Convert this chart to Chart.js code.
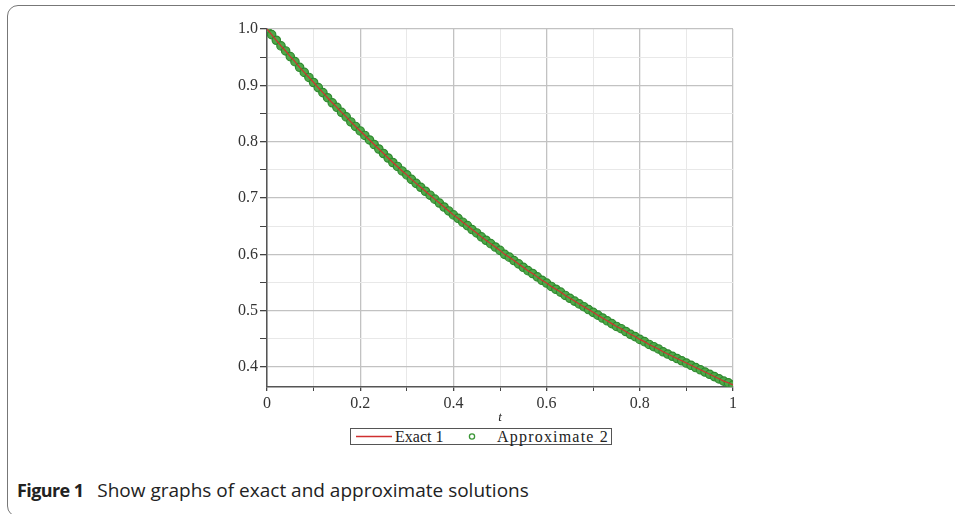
<!DOCTYPE html>
<html>
<head>
<meta charset="utf-8">
<script src="https://cdn.jsdelivr.net/npm/chart.js@4/dist/chart.umd.min.js"></script>
<style>
  html, body { margin: 0; padding: 0; background: #fff; }
  body { width: 955px; height: 514px; position: relative; overflow: hidden; }
  #card { position: absolute; left: 7px; top: 5px; width: 1000px; height: 512px;
          border: 1.5px solid #777; border-radius: 11px; box-sizing: border-box; }
  #wrap { position: absolute; left: 0; top: 0; width: 955px; height: 425px; }
  #legend { position: absolute; left: 350px; top: 428px; width: 262px; height: 17px;
            border: 1px solid #555; box-sizing: border-box; font-family: "Liberation Serif", serif;
            font-size: 16px; color: #222; line-height: 15px; white-space: nowrap; }
  #legend span { position: absolute; top: 0; }
  #caption { position: absolute; left: 17px; top: 477px; font-family: "Open Sans", sans-serif;
             font-size: 19px; color: #222; white-space: nowrap; }
  #caption b { font-weight: 700; font-size: 18px; letter-spacing: -0.6px; margin-right: 9px; }
</style>
</head>
<body>
<div id="card"></div>
<div id="wrap"><canvas id="c" width="955" height="425"></canvas></div>
<div id="legend">
  <canvas id="lgLine" width="40" height="15" style="position:absolute;left:3px;top:0"></canvas>
  <span style="left:44px">Exact 1</span>
  <canvas id="lgDot" width="14" height="15" style="position:absolute;left:114px;top:0"></canvas>
  <span style="left:146px;letter-spacing:1.2px">Approximate 2</span>
</div>
<div id="caption"><b>Figure 1</b> Show graphs of exact and approximate solutions</div>
<script>
// ---- data ----
const tValues = [0.00,0.01,0.02,0.03,0.04,0.05,0.06,0.07,0.08,0.09,
                 0.10,0.11,0.12,0.13,0.14,0.15,0.16,0.17,0.18,0.19,
                 0.20,0.21,0.22,0.23,0.24,0.25,0.26,0.27,0.28,0.29,
                 0.30,0.31,0.32,0.33,0.34,0.35,0.36,0.37,0.38,0.39,
                 0.40,0.41,0.42,0.43,0.44,0.45,0.46,0.47,0.48,0.49,
                 0.50,0.51,0.52,0.53,0.54,0.55,0.56,0.57,0.58,0.59,
                 0.60,0.61,0.62,0.63,0.64,0.65,0.66,0.67,0.68,0.69,
                 0.70,0.71,0.72,0.73,0.74,0.75,0.76,0.77,0.78,0.79,
                 0.80,0.81,0.82,0.83,0.84,0.85,0.86,0.87,0.88,0.89,
                 0.90,0.91,0.92,0.93,0.94,0.95,0.96,0.97,0.98,0.99,1.00];
const exactValues = [1.000,0.990,0.980,0.970,0.961,0.951,0.942,0.932,0.923,0.914,
                     0.905,0.896,0.887,0.878,0.869,0.861,0.852,0.844,0.835,0.827,
                     0.819,0.811,0.803,0.795,0.787,0.779,0.771,0.763,0.756,0.748,
                     0.741,0.733,0.726,0.719,0.712,0.705,0.698,0.691,0.684,0.677,
                     0.670,0.664,0.657,0.651,0.644,0.638,0.631,0.625,0.619,0.613,
                     0.607,0.600,0.595,0.589,0.583,0.577,0.571,0.566,0.560,0.554,
                     0.549,0.543,0.538,0.533,0.527,0.522,0.517,0.512,0.507,0.502,
                     0.497,0.492,0.487,0.482,0.477,0.472,0.468,0.463,0.458,0.454,
                     0.449,0.445,0.440,0.436,0.432,0.427,0.423,0.419,0.415,0.411,
                     0.407,0.403,0.399,0.395,0.391,0.387,0.383,0.379,0.375,0.372,0.368];
const approxValues = [1.000,0.990,0.980,0.970,0.961,0.951,0.942,0.932,0.923,0.914,
                      0.905,0.896,0.887,0.878,0.869,0.861,0.852,0.844,0.835,0.827,
                      0.819,0.811,0.803,0.795,0.787,0.779,0.771,0.763,0.756,0.748,
                      0.741,0.733,0.726,0.719,0.712,0.705,0.698,0.691,0.684,0.677,
                      0.670,0.664,0.657,0.651,0.644,0.638,0.631,0.625,0.619,0.613,
                      0.607,0.600,0.595,0.589,0.583,0.577,0.571,0.566,0.560,0.554,
                      0.549,0.543,0.538,0.533,0.527,0.522,0.517,0.512,0.507,0.502,
                      0.497,0.492,0.487,0.482,0.477,0.472,0.468,0.463,0.458,0.454,
                      0.449,0.445,0.440,0.436,0.432,0.427,0.423,0.419,0.415,0.411,
                      0.407,0.403,0.399,0.395,0.391,0.387,0.383,0.379,0.375,0.372,0.368];
const xTicks = [0,0.1,0.2,0.3,0.4,0.5,0.6,0.7,0.8,0.9,1];
const xTickLabels = ['0','','0.2','','0.4','','0.6','','0.8','','1'];
const yTicks = [0.4,0.45,0.5,0.55,0.6,0.65,0.7,0.75,0.8,0.85,0.9,0.95,1.0];
const yTickLabels = ['0.4','','0.5','','0.6','','0.7','','0.8','','0.9','','1.0'];
const seriesNames = ['Exact 1','Approximate 2'];

const RED = '#d03030', GREEN = '#3a9636';
const serif = '"Liberation Serif", "Times New Roman", serif';

const exactData = tValues.map((t,i)=>({x:t,y:exactValues[i]}));
const approxData = tValues.map((t,i)=>({x:t,y:approxValues[i]}));

function isMajor(v, step){ const r = v/step; return Math.abs(r-Math.round(r))<1e-6; }

new Chart(document.getElementById('c'), {
  type: 'scatter',
  data: { datasets: [
    { label: seriesNames[0], data: exactData, showLine: true, borderColor: RED, borderWidth: 1.2,
      pointRadius: 0, pointHoverRadius: 0, tension: 0, order: 0 },
    { label: seriesNames[1], data: approxData, showLine: false, pointStyle: 'circle',
      pointRadius: 4.2, borderColor: '#2e8a2e', backgroundColor: '#4ea848', borderWidth: 1.2, order: 1 }
  ]},
  options: {
    responsive: false, animation: false, events: [],
    layout: { padding: { left: 0, right: 222, top: 29, bottom: 0 } },
    plugins: { legend: { display: false }, tooltip: { enabled: false } },
    scales: {
      x: {
        type: 'linear', min: 0, max: 1,
        afterBuildTicks: s => { s.ticks = xTicks.map(v=>({value:v})); },
        afterFit: s => { s.height = 38; },
        ticks: { autoSkip: false, maxRotation: 0, padding: 3, color: '#333',
                 font: { family: serif, size: 16 },
                 callback: (v, i) => xTickLabels[i] },
        grid: { color: ctx => isMajor(ctx.tick.value, 0.2) ? '#c2c2c2' : '#e8e8e8',
                lineWidth: ctx => isMajor(ctx.tick.value, 0.2) ? 1.3 : 1,
                tickColor: '#444', tickLength: 4, drawOnChartArea: true },
        border: { color: '#555', width: 1.5 },
        title: { display: true, text: 't', color: '#222', padding: { top: 0, bottom: 0 },
                 font: { family: serif, size: 13, style: 'italic' } }
      },
      y: {
        type: 'linear', min: 0.3645, max: 1.0,
        afterBuildTicks: s => { s.ticks = yTicks.map(v=>({value:v})); },
        afterFit: s => { s.width = 267; },
        ticks: { autoSkip: false, padding: 2, color: '#333',
                 font: { family: serif, size: 16 },
                 callback: (v, i) => yTickLabels[i] },
        grid: { color: ctx => isMajor(ctx.tick.value, 0.1) ? '#c2c2c2' : '#e8e8e8',
                lineWidth: ctx => isMajor(ctx.tick.value, 0.1) ? 1.3 : 1,
                tickColor: '#444', tickLength: 7 },
        border: { color: '#555', width: 1.5 }
      }
    }
  }
});

// legend icons
(function(){
  const a = document.getElementById('lgLine').getContext('2d');
  a.strokeStyle = RED; a.lineWidth = 1.5; a.beginPath(); a.moveTo(2,7.5); a.lineTo(38,7.5); a.stroke();
  const b = document.getElementById('lgDot').getContext('2d');
  b.strokeStyle = GREEN; b.lineWidth = 1.3; b.beginPath(); b.arc(7,7.5,2.6,0,Math.PI*2); b.stroke();
})();
</script>
</body>
</html>
